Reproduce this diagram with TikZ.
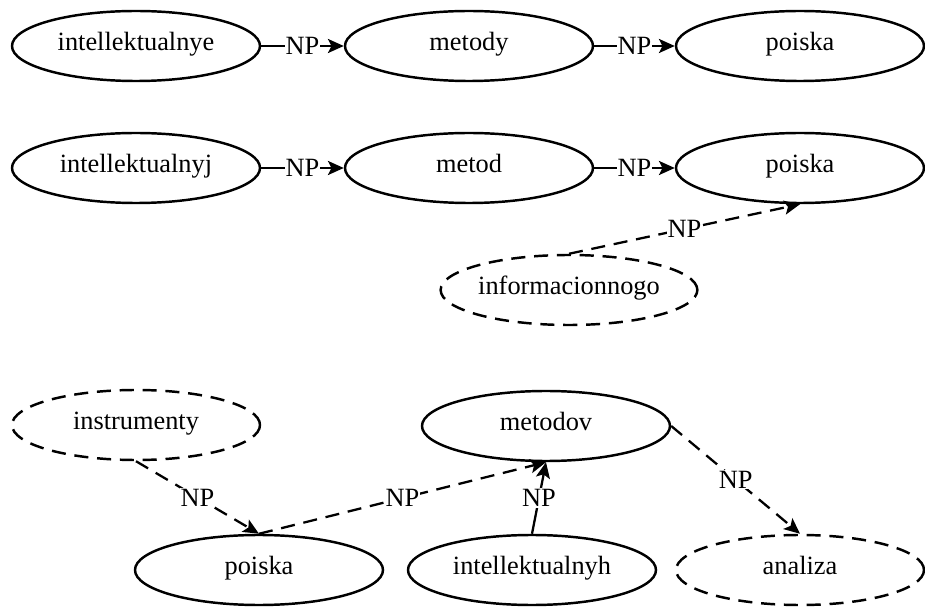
\documentclass[tikz,border=0pt]{standalone}
\usepackage{fontspec}
\setmainfont{Liberation Serif}
\usepackage{tikz}
\usetikzlibrary{arrows.meta}
\usetikzlibrary{shapes.geometric}

\begin{document}
\begin{tikzpicture}[
    font=\fontsize{15}{18}\selectfont,
    word/.style={draw, ellipse, line width=1.4pt, minimum width=4.96cm, minimum height=1.4cm, inner sep=0pt, text height=1.6ex, text depth=.4ex},
    guess/.style={word, dash pattern=on 8pt off 5pt},
    link/.style={line width=1.3pt, -{Stealth[length=9pt,width=8pt,inset=2pt]}},
    maybe/.style={link, dash pattern=on 8pt off 5pt},
    np/.style={fill=white, inner sep=0.5pt}]
  \useasboundingbox (0,0) rectangle (18.5,-12.16);
  % first row
  \node [word] (intye) at (2.72,-0.92) {intellektualnye};
  \node [word] (metody) at (9.38,-0.92) {metody};
  \node [word] (poiskaA) at (16.0,-0.92) {poiska};
  \draw [link] (intye) -- node [np] {NP} (metody);
  \draw [link] (metody) -- node [np] {NP} (poiskaA);
  % second row
  \node [word] (intyj) at (2.72,-3.36) {intellektualnyj};
  \node [word] (metod) at (9.38,-3.36) {metod};
  \node [word] (poiskaB) at (16.0,-3.36) {poiska};
  \node [guess] (info) at (11.38,-5.8) {informacionnogo};
  \draw [link] (intyj) -- node [np] {NP} (metod);
  \draw [link] (metod) -- node [np] {NP} (poiskaB);
  \draw [maybe] (info.north) -- node [np] {NP} (poiskaB.south);
  % third group
  \node [guess] (instr) at (2.72,-8.5) {instrumenty};
  \node [word] (metodov) at (10.92,-8.52) {metodov};
  \node [word] (poiskaC) at (5.18,-11.4) {poiska};
  \node [word] (intyh) at (10.64,-11.4) {intellektualnyh};
  \node [guess] (analiza) at (16.0,-11.4) {analiza};
  \draw [maybe] (instr.south) -- node [np] {NP} (poiskaC.north);
  \draw [maybe] (poiskaC.north) -- node [np] {NP} (metodov.south);
  \draw [link] (intyh.north) -- node [np] {NP} (metodov.south);
  \draw [maybe] (metodov.east) -- node [np] {NP} (analiza.north);
\end{tikzpicture}
\end{document}
